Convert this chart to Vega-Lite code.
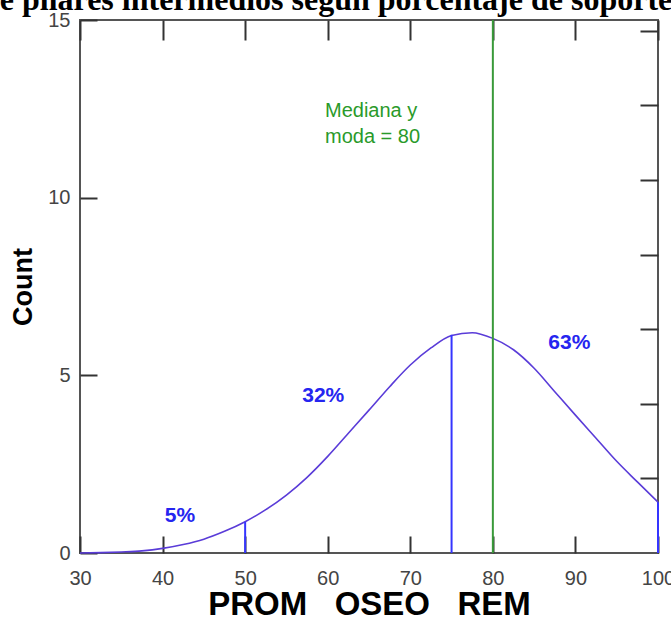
{
  "$schema": "https://vega.github.io/schema/vega-lite/v6.json",
  "width": 578,
  "height": 533,
  "autosize": {"type": "none"},
  "padding": {"left": 80, "top": 20, "right": 13, "bottom": 69},
  "background": "white",
  "title": {
    "text": "e pilares intermedios según porcentaje de soporte",
    "font": "Liberation Serif",
    "fontSize": 32,
    "fontWeight": "bold",
    "color": "black",
    "anchor": "middle",
    "baseline": "alphabetic",
    "offset": -32,
    "dx": -33
  },
  "config": {
    "view": {"stroke": "#555", "strokeWidth": 2},
    "axis": {
      "grid": false,
      "domain": false,
      "labelFont": "Liberation Sans",
      "labelFontSize": 20,
      "labelColor": "#444",
      "labelFlush": false,
      "tickColor": "#333",
      "tickWidth": 2,
      "titleColor": "black",
      "titleFont": "Liberation Sans",
      "titleFontWeight": "bold"
    }
  },
  "resolve": {"axis": {"x": "independent", "y": "independent"}},
  "layer": [
    {
      "data": {
        "values": [
          {"x": 30, "y": 0.0},
          {"x": 32.5, "y": 0.01},
          {"x": 35, "y": 0.03},
          {"x": 37.5, "y": 0.06},
          {"x": 40, "y": 0.13},
          {"x": 42.5, "y": 0.24},
          {"x": 45, "y": 0.39},
          {"x": 47.5, "y": 0.61},
          {"x": 50, "y": 0.88},
          {"x": 52.5, "y": 1.22},
          {"x": 55, "y": 1.63},
          {"x": 57.5, "y": 2.13},
          {"x": 60, "y": 2.72},
          {"x": 62.5, "y": 3.37},
          {"x": 65, "y": 4.02},
          {"x": 67.5, "y": 4.68},
          {"x": 70, "y": 5.29},
          {"x": 72.5, "y": 5.77},
          {"x": 75, "y": 6.12},
          {"x": 77.5, "y": 6.2},
          {"x": 80, "y": 6.04},
          {"x": 82.5, "y": 5.72},
          {"x": 85, "y": 5.2},
          {"x": 87.5, "y": 4.54},
          {"x": 90, "y": 3.88},
          {"x": 92.5, "y": 3.23},
          {"x": 95, "y": 2.58},
          {"x": 97.5, "y": 2.0},
          {"x": 100, "y": 1.43}
        ]
      },
      "mark": {"type": "line", "interpolate": "monotone", "color": "#5a3cd8", "strokeWidth": 1.6},
      "encoding": {
        "x": {
          "field": "x", "type": "quantitative",
          "scale": {"domain": [30, 100], "nice": false},
          "axis": {
            "orient": "bottom",
            "values": [30, 40, 50, 60, 70, 80, 90, 100],
            "tickSize": -17,
            "labelPadding": 32,
            "title": "PROM\u00a0\u00a0\u00a0OSEO\u00a0\u00a0\u00a0REM",
            "titleFontSize": 33,
            "titlePadding": 0
          }
        },
        "y": {
          "field": "y", "type": "quantitative",
          "scale": {"domain": [0, 15], "nice": false},
          "axis": {
            "orient": "left",
            "values": [0, 5, 10, 15],
            "tickSize": -17,
            "labelPadding": 27,
            "title": "Count",
            "titleFontSize": 27,
            "titlePadding": 10
          }
        }
      }
    },
    {
      "data": {"values": [{"x": 50, "bottom": 0, "top": 0.88}, {"x": 75, "bottom": 0, "top": 6.14}, {"x": 100, "bottom": 0, "top": 1.43}]},
      "mark": {"type": "rule", "color": "#3535ff", "strokeWidth": 2},
      "encoding": {
        "x": {"field": "x", "type": "quantitative", "axis": null},
        "y": {"field": "bottom", "type": "quantitative", "axis": null},
        "y2": {"field": "top"}
      }
    },
    {
      "data": {"values": [{"x": 80, "bottom": 0, "top": 15}]},
      "mark": {"type": "rule", "color": "#3a9a3a", "strokeWidth": 2},
      "encoding": {
        "x": {
          "field": "x", "type": "quantitative",
          "axis": {"orient": "top", "values": [30, 40, 50, 60, 70, 80, 90, 100], "tickSize": -20, "labels": false, "title": null}
        },
        "y": {
          "field": "bottom", "type": "quantitative",
          "axis": {"orient": "right", "values": [2.1, 4.2, 6.3, 8.4, 10.5, 12.6, 14.7], "tickSize": -18, "labels": false, "title": null}
        },
        "y2": {"field": "top"}
      }
    },
    {
      "data": {
        "values": [
          {"x": 42.1, "y": 1.04, "t": "5%"},
          {"x": 59.46, "y": 4.42, "t": "32%"},
          {"x": 89.26, "y": 5.9, "t": "63%"}
        ]
      },
      "mark": {"type": "text", "font": "Liberation Sans", "fontWeight": "bold", "fontSize": 21, "color": "#2525f0", "align": "center", "baseline": "middle"},
      "encoding": {
        "x": {"field": "x", "type": "quantitative", "axis": null},
        "y": {"field": "y", "type": "quantitative", "axis": null},
        "text": {"field": "t"}
      }
    },
    {
      "data": {
        "values": [
          {"x": 59.67, "y": 12.44, "t": "Mediana y"},
          {"x": 59.67, "y": 11.71, "t": "moda = 80"}
        ]
      },
      "mark": {"type": "text", "font": "Liberation Sans", "fontSize": 20, "color": "#2a9a2a", "align": "left", "baseline": "middle"},
      "encoding": {
        "x": {"field": "x", "type": "quantitative", "axis": null},
        "y": {"field": "y", "type": "quantitative", "axis": null},
        "text": {"field": "t"}
      }
    }
  ]
}
